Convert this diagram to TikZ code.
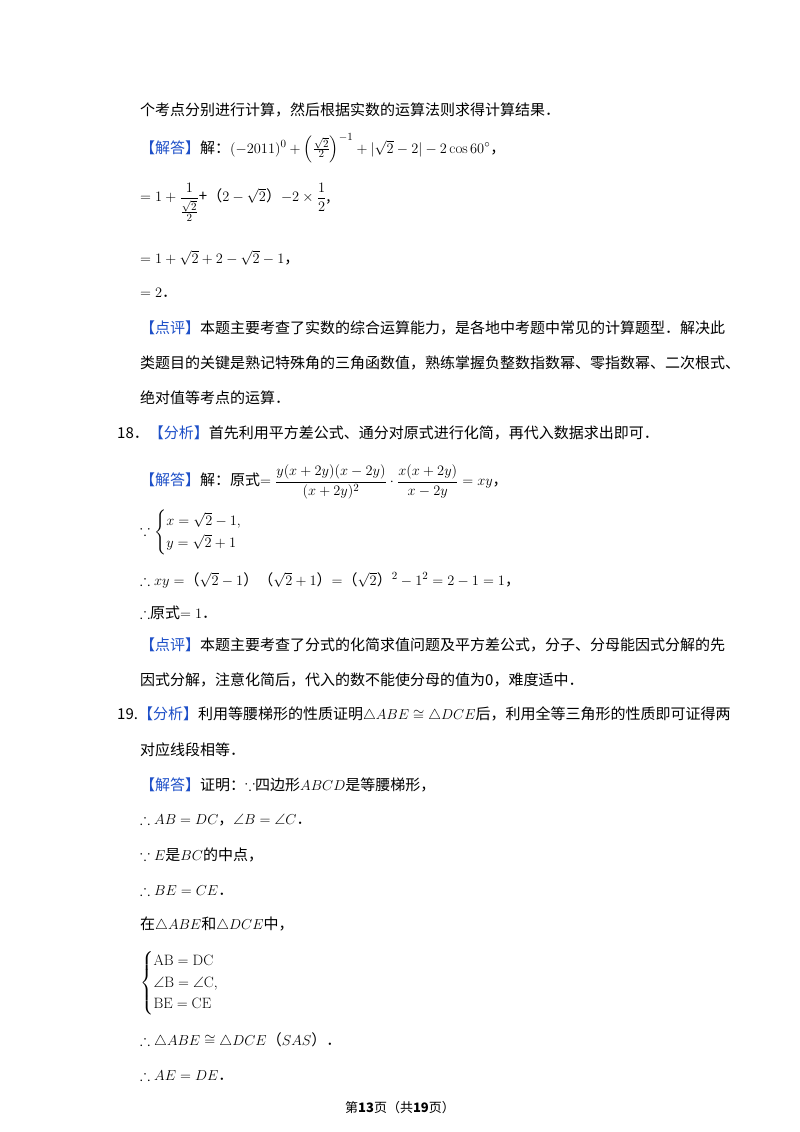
\documentclass[tikz,border=0pt]{standalone}
\usepackage{fontspec}
\usepackage{amsmath,amssymb}
\newfontfamily\cjk{Noto Sans CJK SC}
\definecolor{hb}{RGB}{30,80,200}
\newcommand{\hl}[1]{{\color{hb}#1}}
\begin{document}
\begin{tikzpicture}[x=1pt,y=-1pt,
  t/.style={anchor=west,inner sep=0pt,font=\cjk\fontsize{15}{18}\selectfont}]
\useasboundingbox[fill=white] (0,0) rectangle (800,1132);
\node[t] (l1) at (140,110) {个考点分别进行计算，然后根据实数的运算法则求得计算结果．};
\node[t] (l2) at (140,148) {\hl{【解答】}解：$(-2011)^0+\left(\frac{\sqrt2}{2}\right)^{-1}+|\sqrt2-2|-2\cos60^\circ$，};
\node[t] (l3) at (140,202) {$=1+\dfrac{1}{\frac{\sqrt2}{2}}$+（$2-\sqrt2$）$-2\times\dfrac12$,};
\node[t] (l4) at (140,258) {$=1+\sqrt2+2-\sqrt2-1$，};
\node[t] (l5) at (140,293) {$=2$．};
\node[t] (l6) at (140,328) {\hl{【点评】}本题主要考查了实数的综合运算能力，是各地中考题中常见的计算题型．解决此};
\node[t] (l7) at (140,363) {类题目的关键是熟记特殊角的三角函数值，熟练掌握负整数指数幂、零指数幂、二次根式、};
\node[t] (l8) at (140,398) {绝对值等考点的运算．};
\node[t] (l9) at (117,433) {18．\hl{【分析】}首先利用平方差公式、通分对原式进行化简，再代入数据求出即可．};
\node[t] (l10) at (140,482) {\hl{【解答】}解：原式$=\dfrac{y(x+2y)(x-2y)}{(x+2y)^2}\cdot\dfrac{x(x+2y)}{x-2y}=xy$，};
\node[t] (l11) at (140,532) {$\because\begin{cases}x=\sqrt2-1,\\ y=\sqrt2+1\end{cases}$};
\node[t] (l12) at (140,580) {$\therefore xy=$（$\sqrt2-1$）（$\sqrt2+1$）$=$（$\sqrt2$）$^2-1^2=2-1=1$，};
\node[t] (l13) at (140,613) {$\therefore$原式$=1$．};
\node[t] (l14) at (140,645) {\hl{【点评】}本题主要考查了分式的化简求值问题及平方差公式，分子、分母能因式分解的先};
\node[t] (l15) at (140,680) {因式分解，注意化简后，代入的数不能使分母的值为0，难度适中．};
\node[t] (l16) at (117,715) {19.\hl{【分析】}利用等腰梯形的性质证明$\triangle ABE\cong\triangle DCE$后，利用全等三角形的性质即可证得两};
\node[t] (l17) at (140,750) {对应线段相等．};
\node[t] (l18) at (140,785) {\hl{【解答】}证明：$\because$四边形$ABCD$是等腰梯形，};
\node[t] (l19) at (140,820) {$\therefore AB=DC$，$\angle B=\angle C$．};
\node[t] (l20) at (140,855) {$\because E$是$BC$的中点，};
\node[t] (l21) at (140,890) {$\therefore BE=CE$．};
\node[t] (l22) at (140,925) {在$\triangle ABE$和$\triangle DCE$中，};
\node[t] (l23) at (140,983) {$\begin{cases}\mathrm{AB=DC}\\ \angle\mathrm{B}=\angle\mathrm{C},\\ \mathrm{BE=CE}\end{cases}$};
\node[t] (l24) at (140,1040) {$\therefore\triangle ABE\cong\triangle DCE$（$SAS$）．};
\node[t] (l25) at (140,1075) {$\therefore AE=DE$．};
\node[anchor=center,inner sep=0pt,font=\cjk\fontsize{13}{16}\selectfont] (pg) at (400,1108) {第\textbf{13}页（共\textbf{19}页）};
\end{tikzpicture}
\end{document}
